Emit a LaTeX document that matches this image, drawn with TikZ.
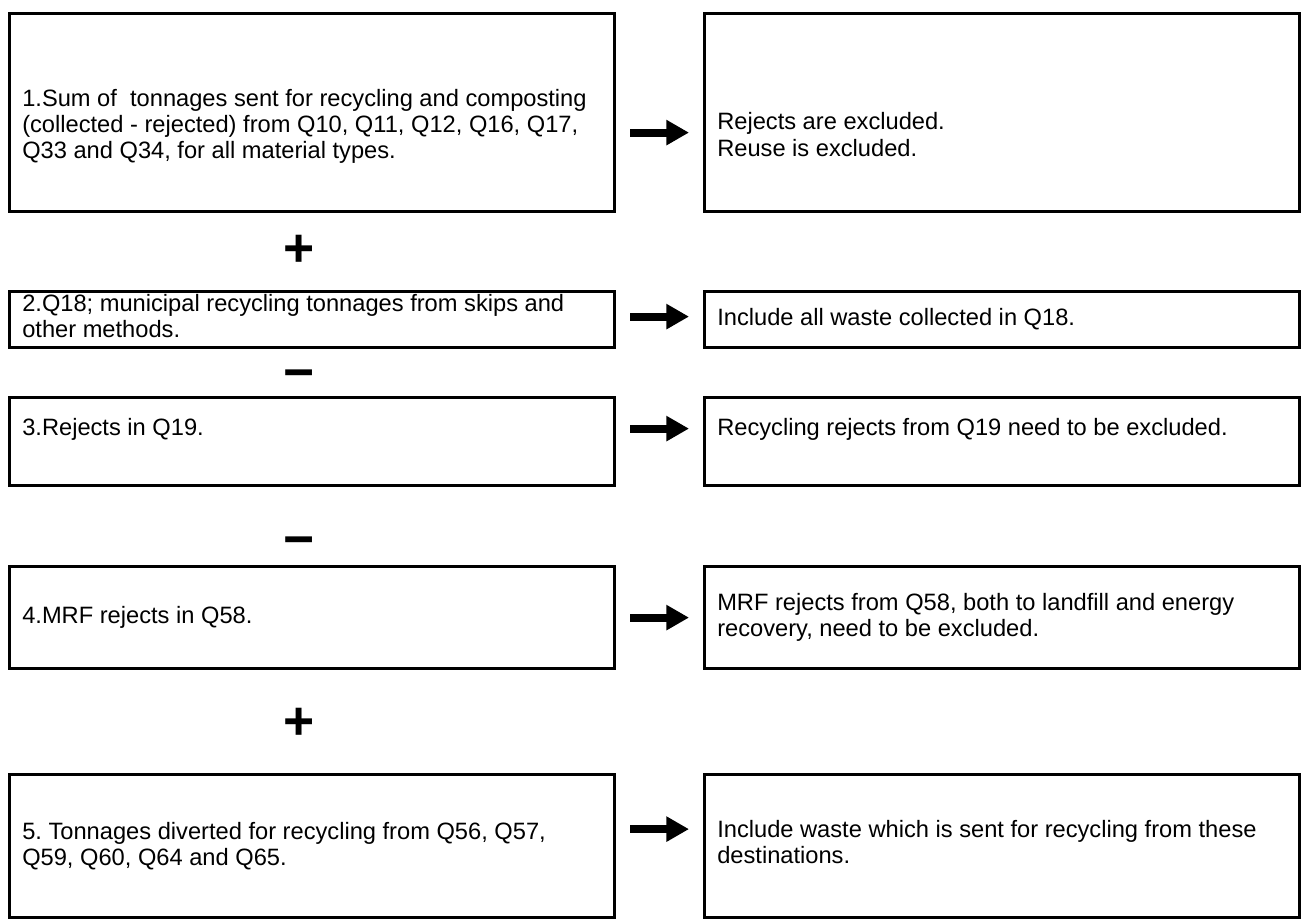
\documentclass[tikz,border=0pt]{standalone}
\usepackage{fontspec}
\setmainfont{Liberation Sans}
\usepackage{tikz}
\usetikzlibrary{arrows.meta, positioning}
\frenchspacing
\tikzset{
    box_left/.style={
        rectangle, draw=black, line width=2.4pt, anchor=north west,
        minimum width=453.75pt
    },
    box_right/.style={
        rectangle, draw=black, line width=2.4pt, anchor=north west,
        minimum width=446.25pt
    },
    txt_in/.style={
        anchor=west, xshift=10.5pt, inner sep=0pt, align=left,
        font=\fontsize{17.75pt}{19.5pt}\selectfont
    },
    fat_arrow/.style={
        -{Triangle[length=17pt, width=18pt]}, line width=6pt, draw=black,
        shorten <=10.5pt, shorten >=10.5pt
    },
    op_sign/.style={
        font=\fontsize{40pt}{40pt}\selectfont\bfseries, inner sep=0pt
    }
}
\begin{document}
\begin{tikzpicture}[x=0.75pt, y=-0.75pt]
    \useasboundingbox (0,0) rectangle (1308,922);

    % left column
    \node[box_left, minimum height=148.5pt,
        label={[txt_in, yshift=-10.5pt]west:{1.Sum of~ tonnages sent for recycling and composting\\(collected - rejected) from Q10, Q11, Q12, Q16, Q17,\\Q33 and Q34, for all material types.}}]
        (step_one) at (8,12) {};
    \node[box_left, minimum height=42pt,
        label={[txt_in, yshift=3pt]west:{2.Q18; municipal recycling tonnages from skips and\\other methods.}}]
        (step_two) at (8,290) {};
    \node[box_left, minimum height=66pt,
        label={[txt_in, yshift=9pt]west:{3.Rejects in Q19.}}]
        (step_three) at (8,396) {};
    \node[box_left, minimum height=76.5pt,
        label={[txt_in]west:{4.MRF rejects in Q58.}}]
        (step_four) at (8,565) {};
    \node[box_left, minimum height=107.25pt,
        label={[txt_in]west:{5. Tonnages diverted for recycling from Q56, Q57,\\Q59, Q60, Q64 and Q65.}}]
        (step_five) at (8,773) {};

    % right column
    \node[box_right, minimum height=148.5pt,
        label={[txt_in, yshift=-16.5pt]west:{Rejects are excluded.\\[1pt]Reuse is excluded.}}]
        (note_one) at (703,12) {};
    \node[box_right, minimum height=42pt,
        label={[txt_in]west:{Include all waste collected in Q18.}}]
        (note_two) at (703,290) {};
    \node[box_right, minimum height=66pt,
        label={[txt_in, yshift=9pt]west:{Recycling rejects from Q19 need to be excluded.}}]
        (note_three) at (703,396) {};
    \node[box_right, minimum height=76.5pt,
        label={[txt_in]west:{MRF rejects from Q58, both to landfill and energy\\recovery, need to be excluded.}}]
        (note_four) at (703,565) {};
    \node[box_right, minimum height=107.25pt,
        label={[txt_in, yshift=3pt]west:{Include waste which is sent for recycling from these\\destinations.}}]
        (note_five) at (703,773) {};

    % operators
    \node[op_sign] (op_plus_a) at (299,251) {+};
    \node[op_sign] (op_minus_a) at (299,380) {\textminus};
    \node[op_sign] (op_minus_b) at (299,547) {\textminus};
    \node[op_sign] (op_plus_b) at (299,724) {+};

    \draw[fat_arrow] ([yshift=-15pt]step_one.east) -- ([yshift=-15pt]note_one.west);
    \draw[fat_arrow] ([yshift=2.25pt]step_two.east) -- ([yshift=2.25pt]note_two.west);
    \draw[fat_arrow] ([yshift=9.75pt]step_three.east) -- ([yshift=9.75pt]note_three.west);
    \draw[fat_arrow] (step_four) -- (note_four);
    \draw[fat_arrow] ([yshift=12.75pt]step_five.east) -- ([yshift=12.75pt]note_five.west);
\end{tikzpicture}
\end{document}
